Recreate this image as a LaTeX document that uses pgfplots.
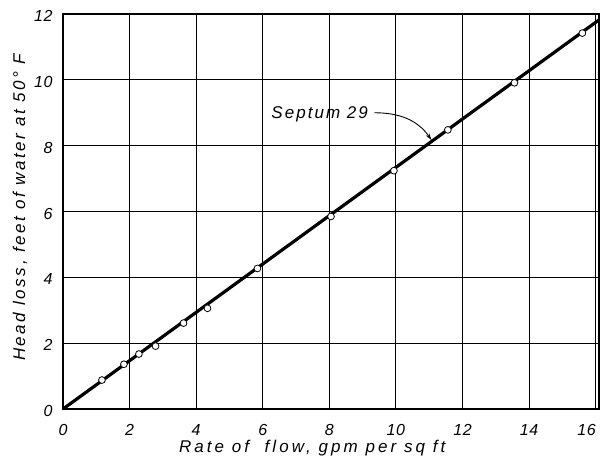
\documentclass[border=0pt]{standalone}
\usepackage{fontspec}
\setmainfont{Liberation Sans}
\usepackage{pgfplots}
\pgfplotsset{compat=1.18}
\usetikzlibrary{arrows.meta}
\begin{document}
\begin{tikzpicture}
\begin{axis}[
 scale only axis, width=536pt, height=395pt,
 xmin=0, xmax=16.1, ymin=0, ymax=12,
 xtick={0,2,...,16}, ytick={0,2,...,12},
 xticklabels={0,2,4,6,8,10,12,14,\hspace*{-18pt}16},
 grid=major, major grid style={black, line width=0.9pt},
 axis line style={line width=2.4pt},
 tick style={draw=none},
 /pgf/number format/assume math mode=true,
 ticklabel style={font=\fontsize{16}{19}\selectfont\itshape\addfontfeature{LetterSpace=4}},
 xticklabel style={yshift=-12pt},
 yticklabel style={xshift=-7pt, yshift=-2pt},
 xlabel={Rate of\ \ flow, gpm per sq ft},
 ylabel={Head loss, feet of water at 50° F},
 xlabel style={font=\fontsize{17}{20}\selectfont\itshape\addfontfeature{LetterSpace=18}, at={(axis description cs:0.465,-0.099)}, anchor=center},
 ylabel style={font=\fontsize{17}{20}\selectfont\itshape\addfontfeature{LetterSpace=15}, at={(axis description cs:-0.08,0.51)}, anchor=center},
 clip=false,
]
\addplot[black, line width=3.2pt] coordinates {(0,0) (16.1,11.82)};
\addplot[only marks, mark=*, mark size=3.4pt, mark options={fill=white, draw=black, line width=0.8pt}] coordinates {
(1.17,0.88) (1.83,1.36) (2.28,1.67) (2.78,1.91) (3.62,2.61) (4.34,3.06)
(5.84,4.27) (8.05,5.85) (9.94,7.24) (11.56,8.48) (13.56,9.91) (15.6,11.42)};
\node[font=\fontsize{17}{20}\selectfont\itshape\addfontfeature{LetterSpace=12}] at (axis cs:7.71,8.95) {Septum 29};
\draw[-{Stealth[length=7pt,width=4pt]}, line width=0.9pt] (axis cs:9.35,9.0) to[out=0, in=125] (axis cs:11.07,8.17);
\end{axis}
\pgfresetboundingbox
\path[use as bounding box] ([shift={(-63pt,-47pt)}]current axis.south west) rectangle ([shift={(2pt,14pt)}]current axis.north east);
\end{tikzpicture}
\end{document}
